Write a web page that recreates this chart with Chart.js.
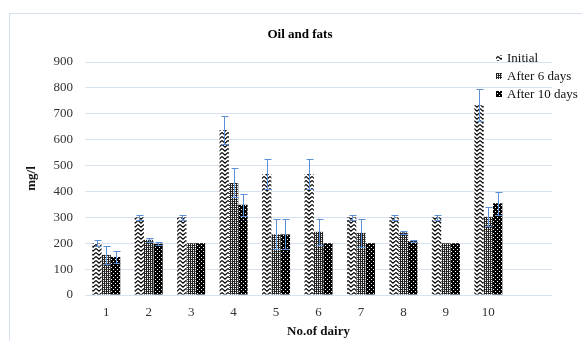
<!DOCTYPE html>
<html>
<head>
<meta charset="utf-8">
<script src="https://cdn.jsdelivr.net/npm/chart.js@4.4.1/dist/chart.umd.min.js"></script>
<style>
  html, body { margin: 0; padding: 0; background: #fff; }
  #wrap { width: 582px; height: 341px; }
</style>
</head>
<body>
<div id="wrap"><canvas id="oil" width="582" height="341"></canvas></div>
<script>
// values
var dairy = ['1', '2', '3', '4', '5', '6', '7', '8', '9', '10', ''];
var seriesNames = ['Initial', 'After 6 days', 'After 10 days'];
var initial = [200, 300, 300, 637, 467, 467, 300, 300, 300, 733];
var after6 = [155, 213, 200, 433, 234, 244, 240, 242, 200, 302];
var after10 = [147, 198, 200, 349, 234, 200, 200, 208, 200, 354];
var errInitial = [12, 10, 10, 53, 57, 57, 10, 10, 10, 61];
var errAfter6 = [36, 8, 0, 56, 58, 51, 55, 6, 0, 36];
var errAfter10 = [22, 5, 0, 43, 58, 0, 0, 4, 0, 45];
var yTicks = [0, 100, 200, 300, 400, 500, 600, 700, 800, 900];

var serif = "'Liberation Serif', 'Times New Roman', serif";
var ctx = document.getElementById('oil').getContext('2d');

// fill patterns (zigzag, grey grid, dots)
function makePattern(w, h, draw) {
    var c = document.createElement('canvas');
    c.width = w; c.height = h;
    var g = c.getContext('2d');
    draw(g);
    return ctx.createPattern(c, 'repeat');
}
var zigzag = makePattern(6, 4, function(g) {
    g.fillStyle = '#fff';
    g.fillRect(0, 0, 6, 4);
    g.strokeStyle = '#000';
    g.lineWidth = 1.1;
    g.beginPath();
    g.moveTo(0, 0.5); g.lineTo(3, 3.2); g.lineTo(6, 0.5);
    g.stroke();
});
var grid = makePattern(4, 4, function(g) {
    g.fillStyle = '#fff';
    g.fillRect(0, 0, 4, 4);
    g.fillStyle = '#222';
    g.fillRect(0, 0, 1, 4);
    g.fillRect(2, 0, 1, 4);
    g.fillRect(1, 1, 1, 1);
    g.fillRect(3, 3, 1, 1);
    g.fillStyle = '#777';
    g.fillRect(1, 3, 1, 1);
    g.fillRect(3, 1, 1, 1);
});
var dots = makePattern(4, 4, function(g) {
    g.fillStyle = '#000';
    g.fillRect(0, 0, 4, 4);
    g.fillStyle = '#fff';
    g.fillRect(1, 1, 1, 1);
    g.fillRect(3, 3, 1, 1);
});
var fills = [zigzag, grid, dots];
var errors = [errInitial, errAfter6, errAfter10];

var frame = {
    id: 'frame',
    beforeDraw: function(chart) {
        var c = chart.ctx;
        c.save();
        c.strokeStyle = '#d5dff0';
        c.lineWidth = 1;
        c.strokeRect(9.5, 13.5, 700, 400);
        c.restore();
    }
};

var errorBars = {
    id: 'errorBars',
    afterDatasetsDraw: function(chart) {
        var c = chart.ctx;
        var y = chart.scales.y;
        c.save();
        c.strokeStyle = '#5b8fd6';
        c.lineWidth = 1;
        chart.data.datasets.forEach(function(ds, i) {
            var meta = chart.getDatasetMeta(i);
            meta.data.forEach(function(bar, j) {
                var e = errors[i][j];
                if (!e) return;
                var x = Math.round(bar.x) + 0.5;
                var top = Math.round(y.getPixelForValue(ds.data[j] + e)) + 0.5;
                var bot = Math.round(y.getPixelForValue(ds.data[j] - e)) + 0.5;
                c.beginPath();
                c.moveTo(x, top); c.lineTo(x, bot);
                c.moveTo(x - 3, top); c.lineTo(x + 4, top);
                c.moveTo(x - 3, bot); c.lineTo(x + 4, bot);
                c.stroke();
            });
        });
        c.restore();
    }
};

var titleAndLegend = {
    id: 'titleAndLegend',
    afterDraw: function(chart) {
        var c = chart.ctx;
        c.save();
        c.fillStyle = '#000';
        c.font = 'bold 13px ' + serif;
        c.textAlign = 'center';
        c.textBaseline = 'middle';
        c.fillText('Oil and fats', 300, 35);

        c.font = '13px ' + serif;
        c.textAlign = 'left';
        chart.data.datasets.forEach(function(ds, i) {
            var ly = 58 + i * 18;
            c.fillStyle = ds.backgroundColor;
            c.fillRect(496, ly - 3, 6, 6);
            c.fillStyle = '#111';
            c.fillText(ds.label, 507, ly + 1);
        });
        c.restore();
    }
};

var chart = new Chart(ctx, {
    type: 'bar',
    data: {
        labels: dairy,
        datasets: [
            { label: seriesNames[0], data: initial, backgroundColor: fills[0] },
            { label: seriesNames[1], data: after6, backgroundColor: fills[1] },
            { label: seriesNames[2], data: after10, backgroundColor: fills[2] }
        ]
    },
    options: {
        responsive: false,
        animation: false,
        layout: { padding: { left: 10, right: 30, top: 62, bottom: 0 } },
        datasets: { bar: { categoryPercentage: 0.66, barPercentage: 1.0, borderWidth: 0 } },
        plugins: {
            legend: { display: false },
            title: { display: false },
            tooltip: { enabled: false }
        },
        scales: {
            x: {
                grid: { display: false, drawTicks: false },
                border: { display: false },
                ticks: { color: '#333', padding: 10, font: { family: serif, size: 13 } },
                title: { display: true, text: 'No.of dairy', color: '#111', padding: { top: 0, bottom: 2 },
                         font: { family: serif, size: 13, weight: 'bold' } },
                afterFit: function(s) { s.height = 46; }
            },
            y: {
                min: 0,
                max: 900,
                afterBuildTicks: function(s) { s.ticks = yTicks.map(function(v) { return { value: v }; }); },
                grid: { color: '#d9e2f2', drawTicks: false },
                border: { display: false },
                ticks: { color: '#333', padding: 12, font: { family: serif, size: 13 } },
                title: { display: true, text: 'mg/l', color: '#111', padding: { top: 14, bottom: 0 },
                         font: { family: serif, size: 13, weight: 'bold' } },
                afterFit: function(s) { s.width = 75; }
            }
        }
    },
    plugins: [frame, errorBars, titleAndLegend]
});
</script>
</body>
</html>
